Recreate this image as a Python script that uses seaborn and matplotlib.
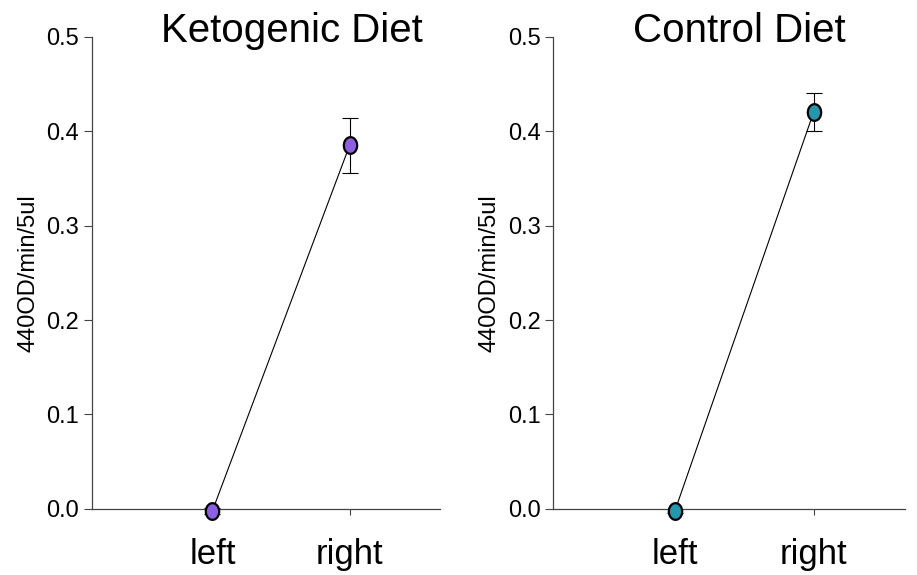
import numpy as np
import pandas as pd
import matplotlib
matplotlib.use("Agg")
import matplotlib.pyplot as plt
from matplotlib.path import Path
import seaborn as sns

sides = ["left", "right"]

keto_mean = [-0.002, 0.385]
keto_err = [0.003, 0.029]

ctrl_mean = [-0.002, 0.420]
ctrl_err = [0.002, 0.020]

titles = ["Ketogenic Diet", "Control Diet"]
colors = ["#8e5fe0", "#2596ad"]
ylabel = "440OD/min/5ul"

sns.set_style("white")
plt.rcParams["font.family"] = ["Liberation Sans", "DejaVu Sans"]
plt.rcParams["text.color"] = "black"
plt.rcParams["xtick.color"] = "black"
plt.rcParams["ytick.color"] = "black"
plt.rcParams["axes.labelcolor"] = "black"

# slightly tall oval marker like the original
t = np.linspace(0, 2 * np.pi, 60)
oval = Path(np.column_stack([0.8 * np.cos(t), np.sin(t)]), closed=True)

fig = plt.figure(figsize=(9.17, 5.75), dpi=100)
ax1 = fig.add_axes([0.100, 0.115, 0.380, 0.821])
ax2 = fig.add_axes([0.603, 0.115, 0.384, 0.821])
title_x = [0.575, 0.53]

for i, (ax, means, errs) in enumerate(zip([ax1, ax2], [keto_mean, ctrl_mean],
                                          [keto_err, ctrl_err])):
    df = pd.DataFrame({"side": sides, "value": means})
    ax.errorbar(np.arange(len(sides)), df["value"], yerr=errs, fmt="none",
                ecolor="black", elinewidth=0.8, capsize=6, capthick=0.8, zorder=2)
    sns.lineplot(data=df, x="side", y="value", ax=ax, color="black", linewidth=0.8,
                 marker=oval, markersize=12, markerfacecolor=colors[i],
                 markeredgecolor="black", markeredgewidth=1.6, zorder=3)
    ax.set_xlim(-0.88, 1.66)
    ax.set_ylim(0, 0.5)
    ax.set_yticks([0, 0.1, 0.2, 0.3, 0.4, 0.5])
    ax.set_yticklabels(["0.0", "0.1", "0.2", "0.3", "0.4", "0.5"])
    ax.set_xticks([0, 1])
    ax.set_xticklabels(sides)
    ax.tick_params(axis="y", labelsize=17, length=6, width=0.8, color="#444444",
                   direction="out", left=True, pad=3)
    ax.tick_params(axis="x", labelsize=25, length=4, width=0.8, color="#444444",
                   direction="out", bottom=True, pad=17)
    ax.set_xlabel("")
    ax.set_ylabel(ylabel, fontsize=17, labelpad=5)
    ax.set_title(titles[i], fontsize=29, x=title_x[i], y=1.0, pad=-4)
    sns.despine(ax=ax)
    for s in ["left", "bottom"]:
        ax.spines[s].set_color("#444444")
        ax.spines[s].set_linewidth(0.9)
    for m in ax.collections + ax.lines:
        m.set_clip_on(False)

fig.savefig("out.png", dpi=100)
